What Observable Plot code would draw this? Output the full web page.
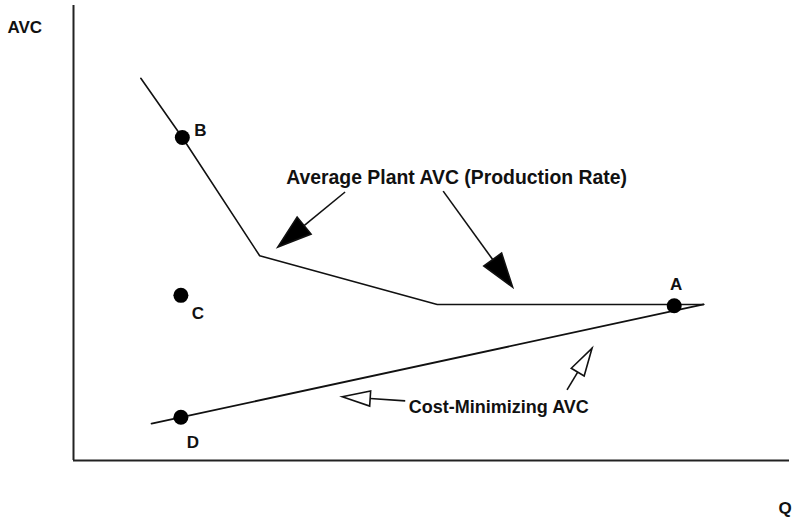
<!DOCTYPE html>
<html><head><meta charset="utf-8">
<script src="https://cdn.jsdelivr.net/npm/d3@7"></script>
<script src="https://cdn.jsdelivr.net/npm/@observablehq/plot@0.6"></script>
<style>body{margin:0;background:#fff;} svg{font-family:"Liberation Sans",Arial,sans-serif;}</style>
</head><body><div id="chart"></div>
<script>
// Average plant AVC (production rate) curve vertices
const plantQ = [9.4, 15.2, 26.0, 50.8, 88.0];
const plantAVC = [84.0, 71.0, 45.0, 34.3, 34.3];
// Cost-minimizing AVC line
const costQ = [10.9, 88.0];
const costAVC = [8.1, 34.3];
// labelled points
const pointNames = ["B", "C", "D", "A"];
const pointQ = [15.2, 15.0, 15.0, 83.9];
const pointAVC = [71.0, 36.3, 9.5, 34.0];
// annotations
const noteTexts = ["Average Plant AVC (Production Rate)", "Cost-Minimizing AVC"];
const noteQ = [53.5, 59.4];
const noteAVC = [62.2, 11.6];
const noteSizes = [19.4, 18];
// arrows: start -> tip, filled or hollow
const arrowQ1 = [38.0, 51.7, 46.4, 69.0];
const arrowAVC1 = [58.9, 59.1, 13.0, 15.4];
const arrowQ2 = [28.6, 61.4, 37.6, 72.5];
const arrowAVC2 = [46.8, 38.0, 13.9, 24.6];
const arrowFilled = [true, true, false, false];

const plantData = plantQ.map((q, i) => ({q, v: plantAVC[i]}));
const costData = costQ.map((q, i) => ({q, v: costAVC[i]}));
const points = pointNames.map((n, i) => ({n, q: pointQ[i], v: pointAVC[i]}));
const labelOffsets = {B: [18, -7], C: [17, 18], D: [12, 25], A: [2, -21]};
const notes = noteTexts.map((t, i) => ({t, q: noteQ[i], v: noteAVC[i], s: noteSizes[i]}));
const arrows = arrowQ1.map((q1, i) => ({q1, v1: arrowAVC1[i], q2: arrowQ2[i], v2: arrowAVC2[i], filled: arrowFilled[i]}));

const plot = Plot.plot({
  width: 798, height: 520,
  marginLeft: 73, marginRight: 9, marginTop: 5, marginBottom: 60,
  x: {domain: [0, 100], axis: null},
  y: {domain: [0, 100], axis: null},
  marks: [
    Plot.ruleX([0], {y1: 0, y2: 100, stroke: "#222", strokeWidth: 2}),
    Plot.ruleY([0], {x1: 0, x2: 100, stroke: "#222", strokeWidth: 2}),
    Plot.line(plantData, {x: "q", y: "v", stroke: "#111", strokeWidth: 1.6}),
    Plot.line(costData, {x: "q", y: "v", stroke: "#111", strokeWidth: 1.8}),
    Plot.dot(points, {x: "q", y: "v", r: 7.5, fill: "#000"}),
    ...points.map(p => Plot.text([p], {x: "q", y: "v", text: "n", dx: labelOffsets[p.n][0], dy: labelOffsets[p.n][1], fontSize: 17, fontWeight: "bold", fill: "#111"})),
    ...notes.map(n => Plot.text([n], {x: "q", y: "v", text: "t", fontSize: n.s, fontWeight: "bold", fill: "#111"})),
    Plot.text(["AVC"], {x: -6.8, y: 95.2, text: d => d, fontSize: 17, fontWeight: "bold", fill: "#111"}),
    Plot.text(["Q"], {x: 99.4, y: -10.5, text: d => d, fontSize: 17, fontWeight: "bold", fill: "#111"})
  ]
});
document.getElementById("chart").append(plot);

// arrows drawn through the plot's own scales
const sx = plot.scale("x"), sy = plot.scale("y");
const svg = d3.select(plot);
const g = svg.append("g");
for (const a of arrows) {
  const x1 = sx.apply(a.q1), y1 = sy.apply(a.v1), x2 = sx.apply(a.q2), y2 = sy.apply(a.v2);
  const dx = x2 - x1, dy = y2 - y1, len = Math.hypot(dx, dy);
  const ux = dx / len, uy = dy / len, px = -uy, py = ux;
  const L = a.filled ? 34 : 28, W = a.filled ? 11 : 7.5;
  const bx = x2 - L * ux, by = y2 - L * uy;
  g.append("line").attr("x1", x1).attr("y1", y1).attr("x2", bx).attr("y2", by)
    .attr("stroke", "#111").attr("stroke-width", 1.6);
  g.append("polygon")
    .attr("points", [[x2, y2], [bx + W * px, by + W * py], [bx - W * px, by - W * py]].map(p => p.join(",")).join(" "))
    .attr("fill", a.filled ? "#000" : "#fff").attr("stroke", "#111").attr("stroke-width", 1.6).attr("stroke-linejoin", "miter");
}
</script></body></html>
